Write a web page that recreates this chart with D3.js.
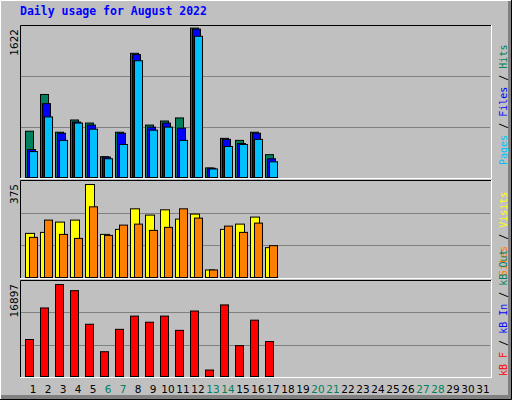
<!DOCTYPE html>
<html><head><meta charset="utf-8">
<script src="https://cdn.jsdelivr.net/npm/d3@7"></script>
<style>body{margin:0;background:#fff}svg{display:block}</style>
</head><body><svg id="c" width="512" height="400"></svg>
<script>
const days = d3.range(1, 32);
const weekends = [6,7,13,14,20,21,27,28];
const hits  = [510,906,499,631,598,235,499,1350,576,620,653,1622,114,433,411,499,257];
const files = [312,807,488,609,576,231,488,1336,554,598,543,1611,110,422,378,488,213];
const pages = [290,664,411,598,532,213,367,1270,521,554,411,1534,103,345,367,422,180];
const visits= [180,184,225,233,375,176,196,278,253,274,237,257,34,196,217,245,123];
const sites = [164,233,176,160,286,172,213,217,192,204,278,241,34,209,184,221,131];
const kbytes= [6907,12642,16897,15787,9682,4687,8757,11162,10052,11162,8572,12087,1357,13197,5797,10422,6537];
const maxLabels = ["1622","375","16897"];

const svg = d3.select("#c");
// background and outer bevel
svg.append("rect").attr("width",512).attr("height",400).attr("fill","#c0c0c0");
svg.append("path").attr("d","M0.5,399 V0.5 H511").attr("stroke","#fff").attr("fill","none");
svg.append("path").attr("d","M511.5,0 V399.5 H0").attr("stroke","#000").attr("fill","none");
svg.append("rect").attr("x",1).attr("y",395).attr("width",510).attr("height",4).attr("fill","#808080");
svg.append("rect").attr("x",508).attr("y",1).attr("width",3).attr("height",398).attr("fill","#808080");

svg.append("text").attr("x",20).attr("y",15).text("Daily usage for August 2022")
  .attr("font-family","DejaVu Sans Mono").attr("font-weight","bold").attr("font-size",11.5).attr("fill","#0000ff");

const x = d3.scaleLinear().domain([1,32]).range([25,490]);
const L = 20, R = 491;

function panel(y0, y1, max, maxLabel) {
  const y = d3.scaleLinear().domain([0, max]).range([y1, y1 - (y1 - y0)]);
  const g = svg.append("g");
  g.append("rect").attr("x",L).attr("y",y0).attr("width",R-L).attr("height",y1-y0).attr("fill","#c0c0c0");
  [1/3, 2/3].forEach(f => {
    const yy = Math.round(y1 - (y1-y0)*f) + 0.5;
    g.append("line").attr("x1",L+1).attr("x2",R-1).attr("y1",yy).attr("y2",yy).attr("stroke","#808080");
  });
  g.append("path").attr("d",`M${L+0.5},${y1} V${y0+0.5} H${R}`).attr("stroke","#000").attr("fill","none");
  g.append("path").attr("d",`M${R+0.5},${y0} V${y1+0.5} H${L}`).attr("stroke","#fff").attr("fill","none");
  svg.append("text").attr("transform",`translate(18,${y0+4}) rotate(-90)`).attr("text-anchor","end")
    .attr("font-family","DejaVu Sans").attr("font-size",10.5).attr("fill","#000").text(maxLabel);
  return {g, y, y1};
}
function bars(p, data, off, w, color) {
  p.g.selectAll(null).data(data).join("rect")
    .attr("x",(d,i)=>x(i+1)+off+0.5).attr("y",d=>p.y(d)+0.5)
    .attr("width",w).attr("height",d=>p.y1-p.y(d)-1)
    .attr("fill",color).attr("stroke","#000").attr("stroke-width",1);
}
const p1 = panel(25, 178, 1650, maxLabels[0]);
bars(p1, hits, 0, 8, "#00805c");
bars(p1, files, 2, 8, "#0000ff");
bars(p1, pages, 4, 8, "#00c0ff");
const p2 = panel(180, 278, 391, maxLabels[1]);
bars(p2, visits, 0, 9, "#ffff00");
bars(p2, sites, 4, 8, "#ff8000");
const p3 = panel(280, 377, 17636, maxLabels[2]);
bars(p3, kbytes, 0, 8, "#ff0000");

svg.selectAll(".d").data(days).join("text")
  .attr("x",d=>x(d)+8).attr("y",393).attr("text-anchor","middle")
  .attr("font-family","DejaVu Sans").attr("font-size",10.5)
  .attr("fill",d=>weekends.includes(d)?"#00805c":"#000").text(d=>d);

function legend(yBottom, parts) {
  const t = svg.append("text").attr("transform",`translate(507,${yBottom}) rotate(-90)`)
    .attr("font-family","DejaVu Sans Mono").attr("font-size",10);
  parts.forEach(([s,c])=>t.append("tspan").attr("fill",c).text(s));
}
legend(165, [["Pages","#00c0ff"],[" / ","#000"],["Files","#0000ff"],[" / ","#000"],["Hits","#00805c"]]);
legend(276, [["Sites","#ff8000"],[" / ","#000"],["Visits","#ffff00"]]);
legend(376, [["kB F","#ff0000"],[" / ","#000"],["kB In","#0000ff"],[" / ","#000"],["kB Out","#00805c"]]);
</script></body></html>
